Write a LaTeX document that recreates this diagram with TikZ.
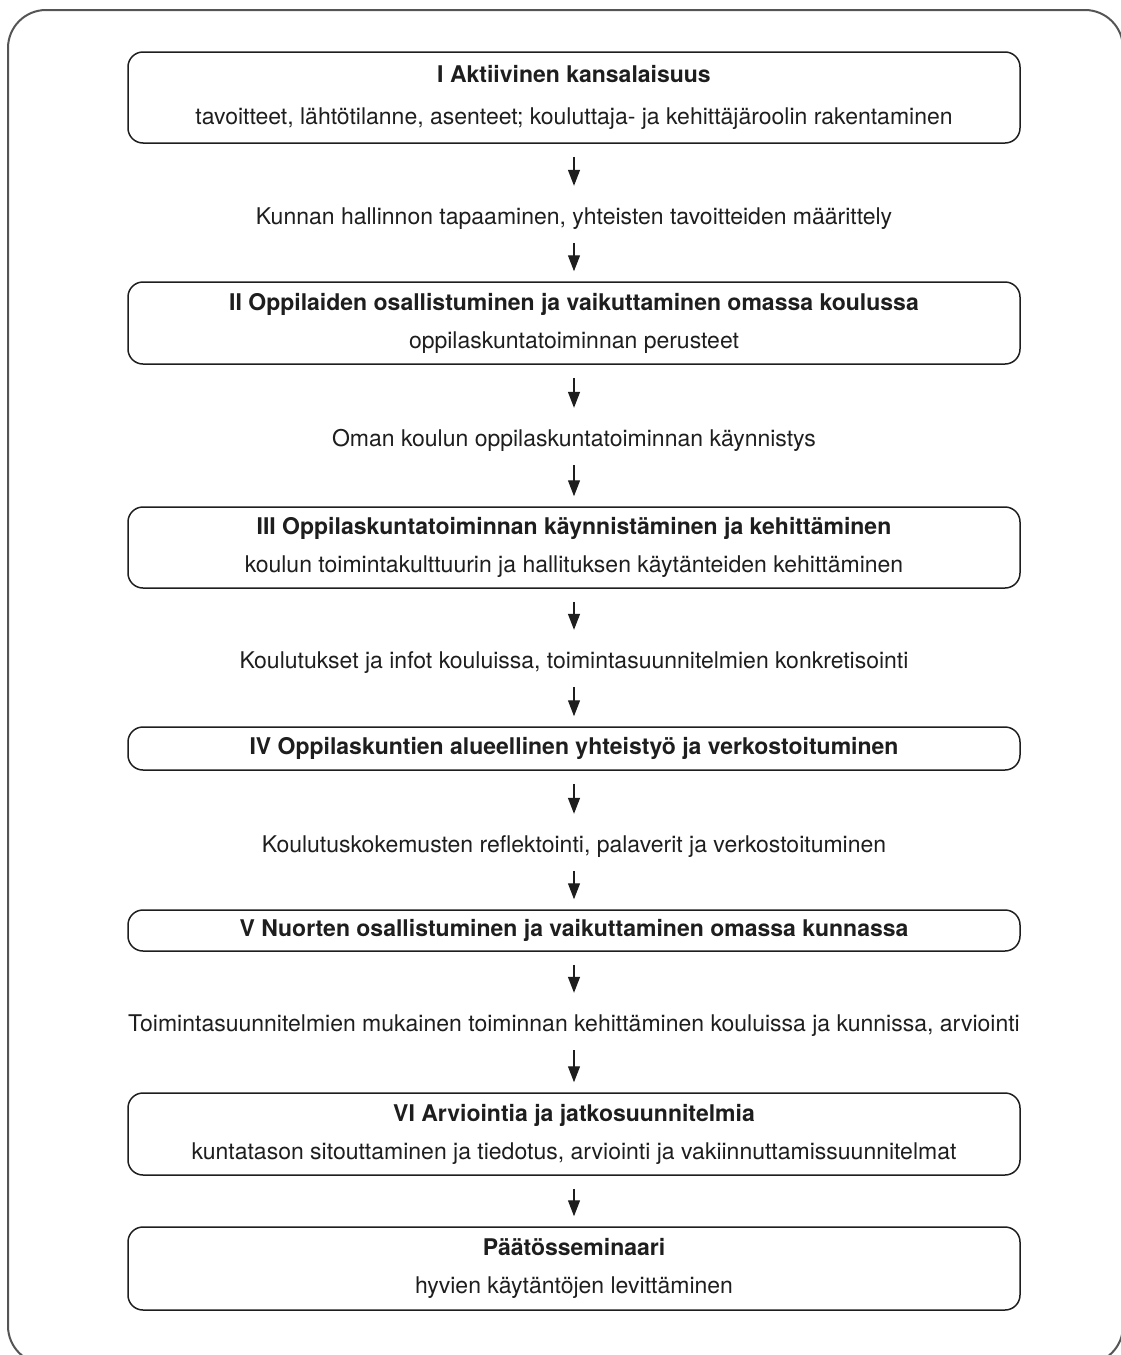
\documentclass[tikz,border=0pt]{standalone}
\usepackage{fontspec}
\setmainfont{TeX Gyre Heros}
\usetikzlibrary{arrows.meta}
\definecolor{ink}{HTML}{1E1E1E}
\definecolor{frame}{HTML}{555555}
\tikzset{
  stage/.style={draw=ink, line width=1.5pt, rounded corners=15pt, minimum width=892pt,
    align=center, inner sep=0pt, text=ink, font=\fontsize{23}{38}\selectfont},
  link/.style={inner sep=0pt, text height=17pt, text depth=5pt, text=ink,
    font=\fontsize{23}{27}\selectfont},
  flow/.style={draw=ink, line width=1.3pt, -{Triangle[width=12pt,length=16pt]}},
  frombox/.style={shorten <=13pt},
  fromtext/.style={shorten <=14pt},
  totext/.style={shorten >=21pt},
  tobox/.style={shorten >=10pt}
}
\begin{document}
\begin{tikzpicture}[x=1pt,y=-1pt]
\useasboundingbox (0,0) rectangle (1121,1355);
\clip (0,0) rectangle (1121,1355);
\draw[frame, line width=2pt, rounded corners=38pt] (8,10) rectangle (1123,1364);

\node[stage, minimum height=91pt] (b1) at (574,97.5) {\textbf{I Aktiivinen kansalaisuus}\\[4pt]tavoitteet, lähtötilanne, asenteet; kouluttaja- ja kehittäjäroolin rakentaminen};
\node[link] (t1) at (574,218) {Kunnan hallinnon tapaaminen, yhteisten tavoitteiden määrittely};
\node[stage, minimum height=82pt] (b2) at (574,323) {\textbf{II Oppilaiden osallistuminen ja vaikuttaminen omassa koulussa}\\oppilaskuntatoiminnan perusteet};
\node[link] (t2) at (574,440) {Oman koulun oppilaskuntatoiminnan käynnistys};
\node[stage, minimum height=81pt] (b3) at (574,547.5) {\textbf{III Oppilaskuntatoiminnan käynnistäminen ja kehittäminen}\\koulun toimintakulttuurin ja hallituksen käytänteiden kehittäminen};
\node[link] (t3) at (574,662) {Koulutukset ja infot kouluissa, toimintasuunnitelmien konkretisointi};
\node[stage, minimum height=43pt] (b4) at (574,748.5) {\textbf{IV Oppilaskuntien alueellinen yhteistyö ja verkostoituminen}};
\node[link] (t4) at (574,846) {Koulutuskokemusten reflektointi, palaverit ja verkostoituminen};
\node[stage, minimum height=41pt] (b5) at (574,930.5) {\textbf{V Nuorten osallistuminen ja vaikuttaminen omassa kunnassa}};
\node[link] (t5) at (574,1025) {Toimintasuunnitelmien mukainen toiminnan kehittäminen kouluissa ja kunnissa, arviointi};
\node[stage, minimum height=82pt] (b6) at (574,1134) {\textbf{VI Arviointia ja jatkosuunnitelmia}\\kuntatason sitouttaminen ja tiedotus, arviointi ja vakiinnuttamissuunnitelmat};
\node[stage, minimum height=83pt] (b7) at (574,1268.5) {\textbf{Päätösseminaari}\\hyvien käytäntöjen levittäminen};

\draw[flow, frombox, totext] (b1) -- (t1);
\draw[flow, fromtext, tobox] (t1) -- (b2);
\draw[flow, frombox, totext] (b2) -- (t2);
\draw[flow, fromtext, tobox] (t2) -- (b3);
\draw[flow, frombox, totext] (b3) -- (t3);
\draw[flow, fromtext, tobox] (t3) -- (b4);
\draw[flow, frombox, totext] (b4) -- (t4);
\draw[flow, fromtext, tobox] (t4) -- (b5);
\draw[flow, frombox, totext] (b5) -- (t5);
\draw[flow, fromtext, tobox] (t5) -- (b6);
\draw[flow, frombox, tobox] (b6) -- (b7);
\end{tikzpicture}
\end{document}
